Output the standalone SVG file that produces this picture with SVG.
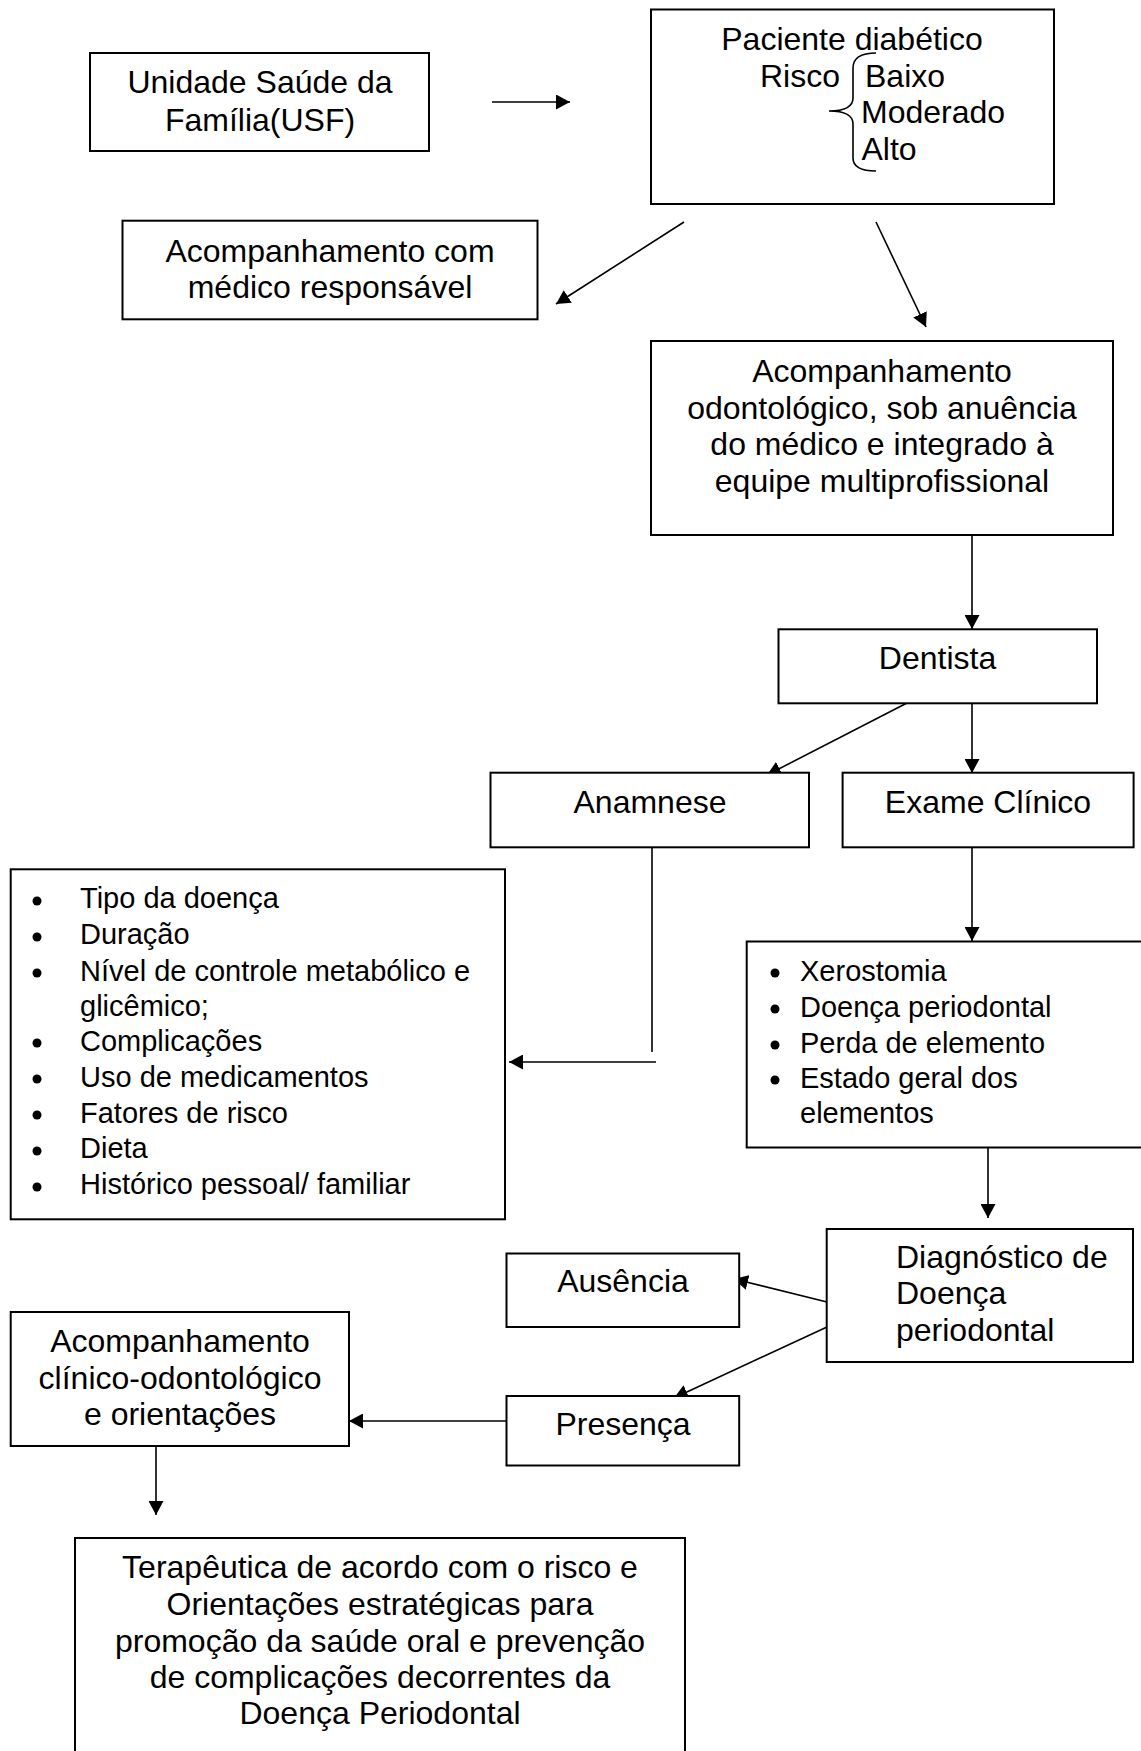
<svg xmlns="http://www.w3.org/2000/svg" width="1141" height="1751" viewBox="0 0 1141 1751">
<defs>
<style>
.box{fill:#fff;stroke:#000;stroke-width:2}
.t{font-family:"Liberation Sans",Arial,sans-serif;font-size:32px;fill:#000}
.c{text-anchor:middle}
.l{font-family:"Liberation Sans",Arial,sans-serif;font-size:29px;fill:#000}
.cn{fill:none;stroke:#000;stroke-width:1.6}
.br{fill:none;stroke:#000;stroke-width:1.6}
</style>
<marker id="ah" markerUnits="userSpaceOnUse" markerWidth="15" markerHeight="15" refX="14" refY="7.5" orient="auto">
<path d="M0,0 L14,7.5 L0,15 z" fill="#000"/>
</marker>
</defs>
<rect width="1141" height="1751" fill="#fff"/>

<g id="connectors">
<line class="cn" x1="492" y1="102" x2="570" y2="102" marker-end="url(#ah)"/>
<line class="cn" x1="684" y1="222" x2="556" y2="304" marker-end="url(#ah)"/>
<line class="cn" x1="876" y1="222" x2="926" y2="327" marker-end="url(#ah)"/>
<line class="cn" x1="972" y1="535" x2="972" y2="629" marker-end="url(#ah)"/>
<line class="cn" x1="907" y1="703" x2="767" y2="775" marker-end="url(#ah)"/>
<line class="cn" x1="972" y1="703" x2="972" y2="773" marker-end="url(#ah)"/>
<line class="cn" x1="652" y1="847" x2="652" y2="1052"/>
<line class="cn" x1="656" y1="1062" x2="509" y2="1062" marker-end="url(#ah)"/>
<line class="cn" x1="972" y1="847" x2="972" y2="941" marker-end="url(#ah)"/>
<line class="cn" x1="988" y1="1147" x2="988" y2="1218" marker-end="url(#ah)"/>
<line class="cn" x1="827" y1="1302" x2="734" y2="1279" marker-end="url(#ah)"/>
<line class="cn" x1="827" y1="1327" x2="674" y2="1398" marker-end="url(#ah)"/>
<line class="cn" x1="506" y1="1421" x2="349" y2="1421" marker-end="url(#ah)"/>
<line class="cn" x1="156" y1="1446" x2="156" y2="1515" marker-end="url(#ah)"/>
</g>

<g id="usf">
<rect class="box" x="90" y="53" width="339" height="98"/>
<text class="t c" x="260" y="93">Unidade Saúde da</text>
<text class="t c" x="260" y="131">Família(USF)</text>
</g>

<g id="paciente">
<rect class="box" x="651" y="9.5" width="403" height="194.5"/>
<text class="t c" x="852" y="50">Paciente diabético</text>
<text class="t" x="760" y="87">Risco</text>
<path class="br" d="M876,53 C860,53 853,58 853,68 L853,98 C853,106 845,111 829,111 C845,111 853,116 853,124 L853,158 C853,166 860,171 876,171"/>
<text class="t" x="865" y="87">Baixo</text>
<text class="t" x="861" y="123">Moderado</text>
<text class="t" x="861.5" y="160">Alto</text>
</g>

<g id="acomp-medico">
<rect class="box" x="122.5" y="220.7" width="415" height="98.6"/>
<text class="t c" x="330" y="262">Acompanhamento com</text>
<text class="t c" x="330" y="298">médico responsável</text>
</g>

<g id="acomp-odonto">
<rect class="box" x="651" y="341" width="462" height="194"/>
<text class="t c" x="882" y="382">Acompanhamento</text>
<text class="t c" x="882" y="419">odontológico, sob anuência</text>
<text class="t c" x="882" y="455">do médico e integrado à</text>
<text class="t c" x="882" y="492">equipe multiprofissional</text>
</g>

<g id="dentista">
<rect class="box" x="778.5" y="629.3" width="318.5" height="74"/>
<text class="t c" x="937.5" y="669">Dentista</text>
</g>

<g id="anamnese">
<rect class="box" x="490.5" y="772.7" width="318.5" height="74.6"/>
<text class="t c" x="650" y="813">Anamnese</text>
</g>

<g id="exame">
<rect class="box" x="842.6" y="772.7" width="291" height="74.6"/>
<text class="t c" x="988" y="813">Exame Clínico</text>
</g>

<g id="lista-anamnese">
<rect class="box" x="10.7" y="869.3" width="494.3" height="350"/>
<circle cx="37" cy="901" r="4.5"/><text class="l" x="80" y="908">Tipo da doença</text>
<circle cx="37" cy="937" r="4.5"/><text class="l" x="80" y="944">Duração</text>
<circle cx="37" cy="973" r="4.5"/><text class="l" x="80" y="981">Nível de controle metabólico e</text>
<text class="l" x="80" y="1016">glicêmico;</text>
<circle cx="37" cy="1043" r="4.5"/><text class="l" x="80" y="1051">Complicações</text>
<circle cx="37" cy="1079" r="4.5"/><text class="l" x="80" y="1087">Uso de medicamentos</text>
<circle cx="37" cy="1115" r="4.5"/><text class="l" x="80" y="1123">Fatores de risco</text>
<circle cx="37" cy="1151" r="4.5"/><text class="l" x="80" y="1158">Dieta</text>
<circle cx="37" cy="1187" r="4.5"/><text class="l" x="80" y="1194">Histórico pessoal/ familiar</text>
</g>

<g id="lista-exame">
<rect class="box" x="746.7" y="941.5" width="420" height="206"/>
<circle cx="775" cy="973" r="4.5"/><text class="l" x="800" y="981">Xerostomia</text>
<circle cx="775" cy="1009" r="4.5"/><text class="l" x="800" y="1017">Doença periodontal</text>
<circle cx="775" cy="1045" r="4.5"/><text class="l" x="800" y="1053">Perda de elemento</text>
<circle cx="775" cy="1080" r="4.5"/><text class="l" x="800" y="1088">Estado geral dos</text>
<text class="l" x="800" y="1123">elementos</text>
</g>

<g id="diagnostico">
<rect class="box" x="826.7" y="1229" width="306.3" height="133"/>
<text class="t" x="896" y="1268">Diagnóstico de</text>
<text class="t" x="896" y="1304">Doença</text>
<text class="t" x="896" y="1341">periodontal</text>
</g>

<g id="ausencia">
<rect class="box" x="506.5" y="1253.5" width="232.7" height="73.5"/>
<text class="t c" x="623" y="1292">Ausência</text>
</g>

<g id="presenca">
<rect class="box" x="506.5" y="1396" width="232.7" height="69.5"/>
<text class="t c" x="623" y="1435">Presença</text>
</g>

<g id="acomp-clinico">
<rect class="box" x="10.7" y="1312" width="338.3" height="134"/>
<text class="t c" x="180" y="1352">Acompanhamento</text>
<text class="t c" x="180" y="1389">clínico-odontológico</text>
<text class="t c" x="180" y="1425">e orientações</text>
</g>

<g id="terapeutica">
<rect class="box" x="75" y="1538" width="610" height="250"/>
<text class="t c" x="380" y="1578">Terapêutica de acordo com o risco e</text>
<text class="t c" x="380" y="1615">Orientações estratégicas para</text>
<text class="t c" x="380" y="1652">promoção da saúde oral e prevenção</text>
<text class="t c" x="380" y="1688">de complicações decorrentes da</text>
<text class="t c" x="380" y="1724">Doença Periodontal</text>
</g>
</svg>
